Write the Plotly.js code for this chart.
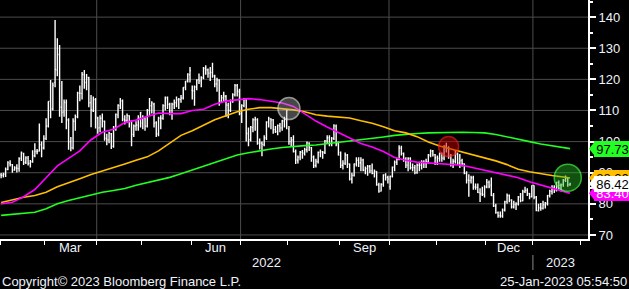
<!DOCTYPE html>
<html><head><meta charset="utf-8">
<script src="https://cdn.plot.ly/plotly-3.0.1.min.js"></script>
<style>html,body{margin:0;padding:0;background:#000;}#chart{width:629px;height:289px;}</style>
</head><body><div id="chart"></div>
<script>
// ---- calendar (trading days, Bloomberg-style axis without weekend gaps) ----
const startDate = '2022-02-01';
const axisEndDate = '2023-02-10';
const holidays = ['2022-04-15', '2022-12-26', '2023-01-02'];

// ---- daily bars (Feb 1 2022 .. Jan 25 2023) ----
const opens = [
89.3,89.2,89.6,91.0,93.0,92.6,90.9,91.5,91.3,94.6,96.2,93.3,94.7,93.0,93.5,95.5,96.8,97.0,99.0,98.0,
101.0,105.0,113.0,110.5,119.0,123.0,128.0,111.0,109.5,112.5,107.0,100.0,98.0,106.5,108.0,115.5,115.5,121.5,119.0,120.5,112.5,110.0,113.5,
107.5,104.5,107.5,106.5,101.0,100.5,102.5,98.5,104.5,108.5,111.5,113.0,107.0,106.8,108.3,106.5,102.3,105.0,105.3,107.5,
106.0,107.5,105.0,110.0,111.5,112.0,106.0,102.5,107.5,107.5,111.5,114.0,112.0,109.0,112.0,112.5,113.5,113.5,114.0,117.5,119.5,121.5,
116.5,116.3,117.5,120.0,119.5,120.5,123.5,123.0,122.0,122.2,121.0,118.5,119.8,113.0,114.0,114.5,111.7,110.0,113.0,115.0,118.0,116.0,
109.0,111.5,113.5,102.5,100.5,104.5,107.0,107.0,99.5,99.5,99.0,101.2,106.3,107.3,107.0,103.8,103.2,105.1,104.4,106.6,107.0,
104.0,100.0,100.5,96.8,94.0,95.0,96.6,96.3,97.4,99.5,98.0,95.0,92.3,93.6,96.6,96.7,96.5,100.2,101.2,99.3,101.0,105.0,99.3,
96.5,92.4,93.0,95.7,92.8,88.0,89.1,92.8,94.0,93.2,94.1,90.8,91.3,92.0,90.6,89.8,90.4,86.1,84.1,86.3,89.3,88.5,
85.5,88.9,91.8,93.4,94.4,97.9,96.2,94.3,92.4,94.6,91.6,91.6,90.0,92.4,92.4,93.5,93.3,93.5,95.7,97.0,95.8,
93.0,94.6,96.2,94.7,98.6,97.9,95.4,92.7,93.7,96.0,93.1,93.9,92.9,89.8,87.6,87.5,88.4,85.4,85.3,83.6,83.2,83.0,
85.5,86.9,86.0,82.7,79.3,77.2,76.2,76.1,78.0,80.7,82.7,81.2,79.0,79.8,80.0,82.2,81.0,83.9,84.3,83.3,82.3,
85.9,82.1,77.8,78.7,78.6,79.6,80.1,82.7,84.0,85.3,84.5,86.9,85.9,86.2,87.6,88.2,86.1];
const highs = [
89.9,90.0,91.7,93.7,94.0,92.8,92.1,92.7,95.0,96.8,96.4,95.3,95.4,94.1,97.2,99.5,97.6,105.8,100.0,102.0,
107.5,113.0,119.8,119.0,139.1,133.2,131.0,119.5,113.5,113.5,107.5,101.5,107.5,108.7,116.0,118.0,122.4,123.0,121.7,120.8,115.0,114.5,114.0,
108.0,108.5,109.0,106.8,102.5,103.2,102.8,105.0,109.0,112.0,114.0,113.5,108.5,109.0,108.5,106.8,105.5,106.5,108.5,109.5,
108.5,108.0,110.5,114.0,113.0,112.5,106.5,108.0,108.5,112.0,114.5,114.5,112.5,112.5,113.5,114.5,114.0,115.0,117.5,119.5,122.0,124.0,
118.0,118.0,120.0,121.9,121.0,124.0,124.5,123.5,124.0,125.3,121.5,120.5,120.0,115.0,116.0,115.0,112.5,113.5,115.5,118.5,118.5,117.0,
112.0,114.0,114.0,104.5,105.0,107.5,108.0,107.5,101.0,100.0,102.0,106.5,108.0,107.5,107.3,105.0,105.5,106.0,107.0,108.0,110.5,
105.0,101.5,102.0,97.5,95.5,97.0,97.3,98.0,100.0,99.8,98.3,95.5,94.5,96.8,97.5,97.0,100.5,102.0,102.0,101.5,105.6,105.5,100.0,
96.8,94.0,96.5,96.0,93.0,90.0,93.0,95.0,95.0,95.0,94.5,92.0,92.5,92.5,93.0,91.0,90.5,86.8,86.6,89.5,89.8,89.0,
89.0,92.0,93.9,94.8,98.8,98.7,96.5,95.0,95.0,95.0,93.0,92.5,93.0,93.5,94.0,94.0,94.5,96.0,97.5,97.3,96.0,
95.5,96.5,96.5,98.8,99.6,98.5,96.0,94.5,97.0,96.5,96.0,94.5,93.0,90.5,89.5,89.0,89.0,86.5,86.5,85.0,85.5,86.0,
88.0,87.5,88.5,83.5,80.0,77.5,77.5,78.5,81.0,83.3,83.0,81.5,81.0,80.5,82.5,83.5,84.5,85.5,85.0,83.5,86.0,
86.0,82.5,80.0,80.3,81.0,80.6,82.8,84.5,86.0,86.0,87.0,87.5,86.5,88.0,89.1,88.5,86.8];
const lows = [
88.2,88.5,88.6,90.8,92.0,90.0,90.6,90.1,90.3,93.8,92.5,92.8,92.3,91.7,93.2,95.0,95.9,96.8,95.0,97.5,
100.5,104.5,107.5,110.0,117.5,121.0,108.0,106.0,108.0,104.0,97.4,96.9,97.5,103.5,107.5,113.0,113.5,117.0,116.5,111.0,104.6,109.5,104.2,
102.5,103.0,104.5,100.3,98.8,99.5,97.6,98.0,103.5,107.5,110.5,106.5,105.5,106.0,104.5,98.5,101.5,103.5,103.5,104.5,
104.0,103.5,104.5,108.5,109.0,104.5,101.5,101.7,104.0,107.0,110.0,110.5,108.5,107.0,110.5,111.0,110.5,112.5,113.5,116.5,119.0,119.0,
113.5,111.5,116.5,118.5,117.5,120.0,121.5,120.5,119.5,120.5,117.5,116.0,111.5,112.5,113.0,108.0,107.5,109.5,112.5,114.5,114.5,108.5,
106.0,111.0,100.0,98.5,100.0,103.0,103.5,99.0,97.5,95.3,98.5,100.5,104.5,104.0,102.5,102.8,102.0,103.0,103.5,104.5,104.0,
99.0,98.5,96.5,92.8,93.0,94.0,94.5,95.5,96.5,97.0,93.5,91.5,91.7,93.0,95.0,94.5,96.0,99.5,98.5,98.5,100.5,98.5,95.5,
91.5,91.0,92.5,91.5,87.5,86.5,88.8,92.0,91.8,90.5,90.5,89.5,89.0,89.8,89.5,88.5,85.8,83.6,84.0,85.5,87.5,86.5,
84.5,88.5,90.5,92.5,94.0,95.5,93.5,91.5,90.5,91.0,90.5,89.5,89.7,90.5,91.0,91.5,91.5,93.0,95.0,95.2,92.5,
92.5,93.5,93.5,94.0,96.5,94.5,92.0,91.5,93.0,92.5,91.5,92.0,89.5,86.5,82.3,86.5,84.5,84.5,83.5,80.6,82.5,82.0,
85.0,85.0,82.5,79.0,76.8,75.5,75.5,75.5,77.5,80.0,80.5,78.5,78.5,78.0,79.5,80.5,80.8,83.5,82.5,81.5,82.0,
81.5,77.6,77.5,77.8,78.2,78.5,79.5,82.0,83.0,83.5,84.0,84.5,84.0,85.5,87.0,85.5,85.8];
const closes = [
89.16,89.47,91.11,93.27,92.69,90.78,91.55,91.41,94.44,96.48,93.28,94.81,92.97,93.54,95.39,96.84,96.84,99.08,97.93,100.99,
104.97,112.93,110.46,118.11,123.21,127.98,111.14,109.33,112.67,106.90,99.91,98.02,106.64,107.93,115.62,115.48,121.60,119.03,120.65,112.48,110.23,113.45,107.91,
104.39,107.53,106.64,101.07,100.58,102.78,98.48,104.64,108.78,111.70,113.16,107.25,106.80,108.33,106.65,102.32,104.99,105.32,107.59,109.34,
107.58,104.97,110.14,111.55,112.39,105.94,102.46,107.51,107.45,111.55,114.24,111.93,109.11,112.04,112.55,113.42,113.56,114.03,117.40,119.43,121.67,122.84,
116.29,117.61,119.72,119.51,120.57,123.58,123.07,122.01,122.27,121.17,118.51,119.81,113.12,114.13,114.65,111.74,110.05,113.12,115.09,117.98,116.26,109.03,
111.63,113.50,102.77,100.69,104.65,107.02,107.10,99.49,99.57,99.10,101.16,106.27,107.35,106.92,103.86,103.20,105.15,104.40,106.62,107.14,110.01,
100.03,100.54,96.78,94.12,94.92,96.65,96.31,97.40,99.60,98.15,95.10,92.34,93.65,96.59,96.72,96.48,100.22,101.22,99.34,100.99,105.09,99.31,95.64,
92.36,93.02,95.74,92.83,88.00,89.15,92.84,94.00,93.17,94.10,90.84,91.35,92.00,90.62,89.83,90.46,86.15,84.06,86.27,89.32,88.49,87.96,
88.86,91.80,93.37,94.42,97.92,96.19,94.29,92.45,94.57,91.63,91.62,90.03,92.41,92.38,93.50,93.26,93.52,95.69,96.96,95.77,94.83,
94.65,96.16,94.67,98.57,97.92,95.36,92.65,93.67,95.99,93.14,93.86,92.86,89.78,87.62,87.45,88.36,85.41,85.34,83.63,83.19,83.03,85.43,
86.88,85.57,82.68,79.35,77.17,76.15,76.10,77.99,80.68,82.70,81.21,79.04,79.80,79.99,82.20,80.98,83.92,84.33,83.26,82.26,85.91,
82.10,77.84,78.69,78.57,79.65,80.10,82.67,84.03,85.28,84.46,86.92,85.92,86.16,87.63,88.19,86.13,86.42];

// ---- moving averages ----
const maDates = ['2022-02-01','2022-02-08','2022-02-15','2022-02-22','2022-03-01','2022-03-08','2022-03-15','2022-03-22','2022-03-29','2022-04-05',
'2022-04-12','2022-04-20','2022-04-27','2022-05-04','2022-05-11','2022-05-18','2022-05-25','2022-06-01','2022-06-08','2022-06-15',
'2022-06-22','2022-06-29','2022-07-06','2022-07-13','2022-07-20','2022-07-27','2022-08-03','2022-08-10','2022-08-17','2022-08-24',
'2022-08-31','2022-09-07','2022-09-14','2022-09-21','2022-09-28','2022-10-05','2022-10-12','2022-10-19','2022-10-26','2022-11-02',
'2022-11-09','2022-11-16','2022-11-23','2022-11-30','2022-12-07','2022-12-14','2022-12-21','2022-12-29','2023-01-06','2023-01-13',
'2023-01-20','2023-01-25'];
const ma50 = [80.0,80.5,82.3,84.6,88.4,92.2,94.6,97.0,100.6,103.0,104.0,106.1,106.9,108.0,109.2,109.0,109.0,110.0,110.4,112.0,
113.0,113.4,113.8,113.5,113.0,112.4,111.3,109.0,106.6,104.7,102.9,101.0,99.4,98.3,96.8,94.9,94.0,93.4,93.2,93.0,
92.8,92.4,91.6,90.8,90.0,89.1,88.4,87.1,86.0,84.9,84.0,83.40];
const ma100 = [80.4,81.3,82.1,82.7,83.7,85.5,86.7,88.1,89.4,90.5,91.5,92.8,94.0,95.1,97.0,99.4,102.0,103.5,105.3,107.0,
108.3,109.6,110.4,110.9,110.9,110.6,110.2,109.6,108.6,108.2,107.9,107.6,106.7,105.9,104.8,103.5,102.8,101.6,99.9,98.6,
97.6,96.7,95.7,94.9,93.8,92.6,91.1,90.3,89.6,89.1,88.6,88.3];
const ma200 = [76.3,76.6,76.9,77.3,78.4,80.0,81.1,82.0,82.9,83.7,84.3,84.9,86.0,86.8,87.5,88.5,89.7,91.0,92.1,93.3,
94.5,95.7,96.4,97.1,97.6,98.1,98.5,98.7,98.9,99.3,99.7,100.2,100.7,101.1,101.5,102.0,102.4,102.6,102.8,102.9,
103.0,103.0,102.9,102.8,102.3,101.6,100.8,100.0,99.2,98.6,98.0,97.73];

// ---- highlighted crossover points ----
const crossDates = ['2022-08-01', '2022-11-08', '2023-01-24'];
const crossLevels = [110.6, 98.4, 88.4];

// ---- texts ----
const labelMonths = {'03': 'Mar', '06': 'Jun', '09': 'Sep', '12': 'Dec'};
const yearLabels = ['2022', '2023'];
const copyrightText = 'Copyright\u00a9 2023 Bloomberg Finance L.P.';
const stampText = '25-Jan-2023 05:54:50';

// ================= build =================
function tradingDays(start, end, skip) {
  const out = [];
  const d = new Date(start + 'T00:00:00Z');
  const e = new Date(end + 'T00:00:00Z');
  while (d <= e) {
    const wd = d.getUTCDay();
    const s = d.toISOString().slice(0, 10);
    if (wd !== 0 && wd !== 6 && skip.indexOf(s) < 0) out.push(s);
    d.setUTCDate(d.getUTCDate() + 1);
  }
  return out;
}
const axisDays = tradingDays(startDate, axisEndDate, holidays);
const barDates = axisDays.slice(0, closes.length);
const idx = s => axisDays.indexOf(s);

const FONT = 'Liberation Sans, Arial, sans-serif';
const TXT = '#eef2fa';
const GRID = '#4c4c4c';
const XMIN = -0.5, XMAX = 261;
const YMIN = 68.7, YMAX = 145.5;
const PLOT_W = 588, PLOT_H = 239;

// month starts / quarter starts / month spans
const monthStarts = [];
const monthSpan = {};
axisDays.forEach((s, k) => {
  const m = s.slice(0, 7);
  if (!monthSpan[m]) monthSpan[m] = [k, k]; else monthSpan[m][1] = k;
  if (k === 0 || axisDays[k - 1].slice(0, 7) !== m) monthStarts.push({k: k, m: s.slice(5, 7), y: s.slice(0, 4)});
});
const monthTicks = monthStarts.map(o => o.k - 0.5);
const quarterTicks = monthStarts.filter(o => o.k > 0 && ['01', '04', '07', '10'].indexOf(o.m) >= 0).map(o => o.k - 0.5);
const yearBoundary = monthStarts.find(o => o.y === '2023').k - 0.5;
const yGridVals = [70, 80, 90, 100, 110, 120, 130, 140];

const traces = [];
traces.push({
  type: 'ohlc', x: barDates.map(idx), open: opens, high: highs, low: lows, close: closes,
  increasing: {line: {color: '#ffffff', width: 1.4}},
  decreasing: {line: {color: '#ffffff', width: 1.4}},
  tickwidth: 0.4, hoverinfo: 'skip', showlegend: false
});
[[ma200, '#22ff22'], [ma100, '#ffbf00'], [ma50, '#ff00ff']].forEach(([arr, col]) => {
  traces.push({type: 'scatter', mode: 'lines', x: maDates.map(idx), y: arr,
    line: {color: col, width: 1.6}, hoverinfo: 'skip', showlegend: false});
});
traces.push({
  type: 'scatter', mode: 'markers', x: crossDates.map(idx), y: crossLevels,
  marker: {size: [22, 20, 27],
    color: ['rgba(185,185,185,0.55)', 'rgba(200,0,0,0.72)', 'rgba(40,190,40,0.62)'],
    line: {color: ['rgba(230,230,230,0.9)', 'rgb(235,30,30)', 'rgb(70,255,70)'], width: 1.5}},
  hoverinfo: 'skip', showlegend: false, cliponaxis: false
});

const shapes = [];
yGridVals.forEach(v => shapes.push({type: 'line', xref: 'paper', yref: 'y', x0: 0, x1: 1, y0: v, y1: v,
  line: {color: GRID, width: 1}, layer: 'below'}));
quarterTicks.forEach(q => shapes.push({type: 'line', xref: 'x', yref: 'paper', x0: q, x1: q, y0: 0, y1: 1,
  line: {color: GRID, width: 1}, layer: 'below'}));
shapes.push({type: 'line', xref: 'x', yref: 'paper', x0: yearBoundary, x1: yearBoundary,
  y0: -16 / PLOT_H, y1: -31 / PLOT_H, line: {color: '#8a8a8a', width: 1}});

const annotations = [];
Object.keys(monthSpan).forEach(m => {
  const mm = m.slice(5, 7);
  if (labelMonths[mm] && monthSpan[m][0] <= closes.length) {
    annotations.push({xref: 'x', yref: 'paper', x: (monthSpan[m][0] + monthSpan[m][1]) / 2, y: -8 / PLOT_H,
      yanchor: 'middle', xanchor: 'center', text: labelMonths[mm], showarrow: false,
      font: {family: FONT, size: 13, color: TXT}});
  }
});
annotations.push({xref: 'x', yref: 'paper', x: (XMIN + yearBoundary) / 2, y: -23 / PLOT_H, yanchor: 'middle',
  text: yearLabels[0], showarrow: false, font: {family: FONT, size: 13, color: TXT}});
annotations.push({xref: 'x', yref: 'paper', x: (yearBoundary + XMAX) / 2, y: -23 / PLOT_H, yanchor: 'middle',
  text: yearLabels[1], showarrow: false, font: {family: FONT, size: 13, color: TXT}});
annotations.push({xref: 'paper', yref: 'paper', x: 0, y: -42 / PLOT_H, xanchor: 'left', yanchor: 'middle',
  text: copyrightText, showarrow: false, font: {family: FONT, size: 13, color: TXT}});
annotations.push({xref: 'paper', yref: 'paper', x: 629 / PLOT_W, y: -42 / PLOT_H, xanchor: 'right', yanchor: 'middle',
  text: stampText, showarrow: false, font: {family: FONT, size: 13, color: TXT}});

// right-side value badges (last values)
const badges = [
  {v: ma200[ma200.length - 1], bg: '#22ff22', fg: '#000000'},
  {v: ma100[ma100.length - 1], bg: '#ffbf00', fg: '#000000'},
  {v: ma50[ma50.length - 1], bg: '#ff00ff', fg: '#ffffff'},
  {v: closes[closes.length - 1], bg: '#ffffff', fg: '#000000'}
];
badges.forEach(b => {
  const py = (b.v - YMIN) / (YMAX - YMIN);
  const h = 7.5 / PLOT_H;
  shapes.push({type: 'path', xref: 'paper', yref: 'paper', layer: 'above',
    path: `M ${589 / PLOT_W},${py} L ${595 / PLOT_W},${py + h} L ${595 / PLOT_W},${py - h} Z`,
    fillcolor: b.bg, line: {width: 0}});
  annotations.push({xref: 'paper', yref: 'y', x: 594 / PLOT_W, y: b.v, xanchor: 'left', yanchor: 'middle',
    text: b.v.toFixed(2), showarrow: false, bgcolor: b.bg, bordercolor: b.bg, borderwidth: 1, borderpad: 1,
    width: 33, height: 12, align: 'center', font: {family: FONT, size: 13, color: b.fg}});
});

const layout = {
  width: 629, height: 289,
  paper_bgcolor: '#000000', plot_bgcolor: 'rgba(0,0,0,0)',
  margin: {l: 0, r: 629 - PLOT_W, t: 0, b: 289 - PLOT_H, pad: 0},
  showlegend: false, hovermode: false, dragmode: false,
  xaxis: {
    type: 'linear', range: [XMIN, XMAX], fixedrange: true,
    tickmode: 'array', tickvals: monthTicks, showticklabels: false,
    ticks: 'outside', ticklen: 4, tickwidth: 1, tickcolor: '#ffffff',
    showgrid: false, zeroline: false,
    showline: true, linecolor: '#ffffff', linewidth: 2,
    rangeslider: {visible: false}
  },
  yaxis: {
    side: 'right', range: [YMIN, YMAX], fixedrange: true,
    tickmode: 'linear', tick0: 0, dtick: 10,
    ticks: 'outside', ticklen: 6, tickwidth: 2, tickcolor: '#ffffff',
    showgrid: false,
    zeroline: false, showline: true, linecolor: '#ffffff', linewidth: 2,
    tickfont: {family: FONT, size: 13, color: TXT},
    minor: {dtick: 5, tick0: 0, ticks: 'outside', ticklen: 3, tickcolor: '#ffffff', showgrid: false}
  },
  shapes: shapes,
  annotations: annotations
};

Plotly.newPlot('chart', traces, layout, {displayModeBar: false, staticPlot: true});
</script>
</body></html>
